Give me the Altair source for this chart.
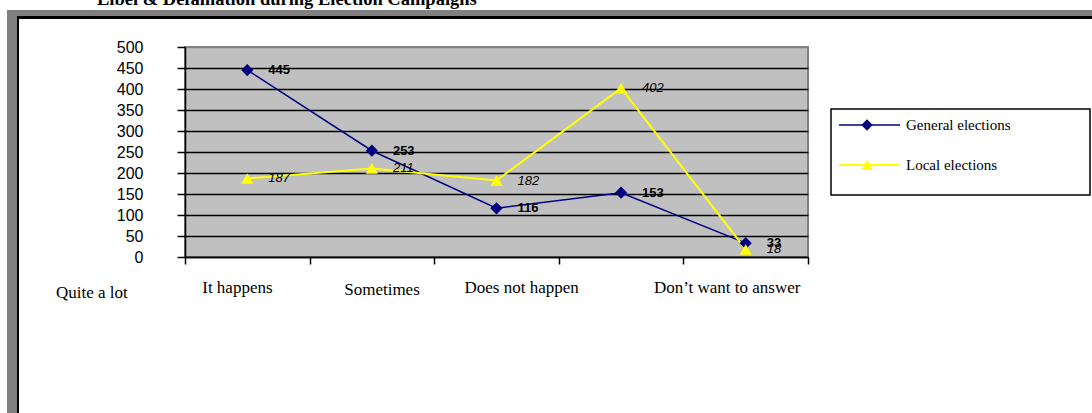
import altair as alt
import pandas as pd

# ---------------- data ----------------
title_text = "Libel & Defamation during Election Campaigns"
categories = ["Quite a lot", "It happens", "Sometimes", "Does not happen", "Don\u2019t want to answer"]
series_names = ["General elections", "Local elections"]
general_values = [445, 253, 116, 153, 33]
local_values = [187, 211, 182, 402, 18]
y_tick_values = [0, 50, 100, 150, 200, 250, 300, 350, 400, 450, 500]

# ---------------- styles ----------------
series_colors = ["#000080", "#FFFF00"]
series_shapes = ["diamond", "triangle-up"]
series_widths = [1.5, 2]
label_offsets = [-156, -135, -115, -100, -19]
label_paddings = [28, 23, 25, 23, 23]

rows = []
for s, vals in zip(series_names, [general_values, local_values]):
    for c, v in zip(categories, vals):
        rows.append({"category": c, "series": s, "value": v})
df = pd.DataFrame(rows)

W, H = 623, 210
PL, PT = 185, 47
TOTAL_W, TOTAL_H = 1092, 413


def cond(values, default):
    return {
        "condition": [
            {"test": "datum.value === '" + c + "'", "value": v}
            for c, v in zip(categories, values)
        ],
        "value": default,
    }


x_enc = alt.X(
    "category:N",
    sort=categories,
    bandPosition=0.5,
    scale=alt.Scale(type="band", paddingInner=0, paddingOuter=0),
    axis=alt.Axis(
        title=None,
        domainColor="black",
        domainWidth=1.5,
        tickColor="black",
        tickWidth=1.5,
        tickSize=7,
        tickBand="extent",
        labelFont="Liberation Serif",
        labelFontSize=17,
        labelColor="black",
        labelAngle=0,
        labelBaseline="middle",
        labelOverlap=False,
        labelOffset=cond(label_offsets, 0),
        labelPadding=cond(label_paddings, 23),
        grid=False,
    ),
)

y_enc = alt.Y(
    "value:Q",
    scale=alt.Scale(domain=[0, 500], nice=False, zero=True),
    axis=alt.Axis(
        title=None,
        values=y_tick_values,
        domainColor="black",
        domainWidth=1.5,
        tickColor="black",
        tickWidth=1.5,
        tickSize=8,
        labelFont="Liberation Sans",
        labelFontSize=16,
        labelColor="black",
        labelPadding=34,
        grid=True,
        gridColor={"condition": {"test": "datum.value === 500", "value": "#808080"}, "value": "black"},
        gridWidth=1.5,
        gridOpacity=1,
    ),
)

color_enc = alt.Color(
    "series:N", scale=alt.Scale(domain=series_names, range=series_colors), legend=None
)
shape_enc = alt.Shape(
    "series:N", scale=alt.Scale(domain=series_names, range=series_shapes), legend=None
)
width_enc = alt.StrokeWidth(
    "series:N", scale=alt.Scale(domain=series_names, range=series_widths), legend=None
)

base = alt.Chart(df)

lines = base.mark_line().encode(x=x_enc, y=y_enc, color=color_enc, strokeWidth=width_enc)
points = base.mark_point(filled=True, opacity=1, size=150).encode(
    x=x_enc, y=y_enc, color=color_enc, shape=shape_enc
)
labels_general = base.transform_filter(alt.datum.series == series_names[0]).mark_text(
    align="left", baseline="middle", dx=21, font="Liberation Sans", fontSize=13,
    fontWeight="bold", color="black",
).encode(x=x_enc, y=y_enc, text="value:Q")
labels_local = base.transform_filter(alt.datum.series == series_names[1]).mark_text(
    align="left", baseline="middle", dx=21, font="Liberation Sans", fontSize=13,
    fontStyle="italic", color="black",
).encode(x=x_enc, y=y_enc, text="value:Q")

one = pd.DataFrame({"d": [0]})


def rect(x0, x1, y0, y1, fill, stroke=None, sw=0):
    kw = dict(fill=fill)
    if stroke is not None:
        kw.update(stroke=stroke, strokeWidth=sw)
    return alt.Chart(one).mark_rect(**kw).encode(
        x=alt.value(x0 - PL), x2=alt.value(x1 - PL),
        y=alt.value(y0 - PT), y2=alt.value(y1 - PT),
    )


frame = [
    rect(7, TOTAL_W + 5, 10, 17, "#808080"),
    rect(7, 17, 10, TOTAL_H + 5, "#808080"),
    rect(17, TOTAL_W + 5, 16, 19, "#000000"),
    rect(17, 19, 16, TOTAL_H + 5, "#000000"),
]

title = alt.Chart(one).mark_text(
    align="left", baseline="alphabetic", font="Liberation Serif", fontSize=18.5,
    fontWeight="bold", color="black",
).encode(x=alt.value(97 - PL), y=alt.value(5 - PT), text=alt.value(title_text))

legend_layers = [rect(831, 1090, 109, 195, "white", "black", 1.5)]
legend_rows_y = [125, 165]
for i, s in enumerate(series_names):
    yy = legend_rows_y[i] - PT
    legend_layers.append(
        alt.Chart(one).mark_rule(color=series_colors[i], strokeWidth=series_widths[i]).encode(
            x=alt.value(839 - PL), x2=alt.value(900 - PL), y=alt.value(yy)
        )
    )
    legend_layers.append(
        alt.Chart(one).mark_point(
            shape=series_shapes[i], filled=True, opacity=1, size=130, color=series_colors[i]
        ).encode(x=alt.value(867 - PL), y=alt.value(yy))
    )
    legend_layers.append(
        alt.Chart(one).mark_text(
            align="left", baseline="middle", font="Liberation Serif", fontSize=15, color="black"
        ).encode(x=alt.value(906 - PL), y=alt.value(yy), text=alt.value(s))
    )

chart = alt.layer(
    *frame, title, lines, points, labels_general, labels_local, *legend_layers
).properties(
    width=W,
    height=H,
    autosize=alt.AutoSizeParams(type="none"),
    padding={"left": PL, "top": PT, "right": TOTAL_W - PL - W, "bottom": TOTAL_H - PT - H},
    background="white",
).configure_view(fill="#C0C0C0", stroke="#808080", strokeWidth=2)

chart.save("out.html", embed_options={"renderer": "svg", "actions": False})
